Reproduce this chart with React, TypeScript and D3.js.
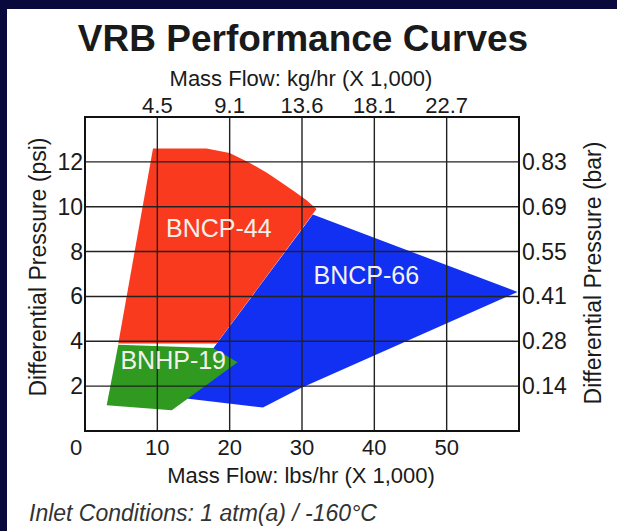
import React from 'react';
import * as d3 from 'd3';

// values
const lbsTicks = [0, 10, 20, 30, 40, 50];
const kgTickValues = [10, 20, 30, 40, 50];
const kgTickLabels = ['4.5', '9.1', '13.6', '18.1', '22.7'];
const psiTicks = [2, 4, 6, 8, 10, 12];
const barTickLabels = ['0.14', '0.28', '0.41', '0.55', '0.69', '0.83'];

// envelopes: [mass flow lbs/hr x1000, differential pressure psi]
const bncp44: [number, number][] = [
  [9.4, 12.6], [16.8, 12.6], [20, 12.4], [22.8, 11.95], [25.2, 11.5],
  [27.3, 11.05], [29.1, 10.65], [30.6, 10.3], [32.0, 9.9], [18.2, 3.9], [4.6, 3.9],
];
const bncp66: [number, number][] = [
  [31.5, 9.65], [59.8, 6.2], [29.7, 1.9], [24.6, 1.05], [14.0, 1.45], [17.3, 3.5],
];
const bnhp19: [number, number][] = [
  [4.6, 3.85], [17.7, 3.7], [21.1, 3.06], [12.0, 0.93], [3.0, 1.15],
];

const seriesNames = ['BNCP-44', 'BNCP-66', 'BNHP-19'];
const seriesShapes = [bncp44, bncp66, bnhp19];
const seriesLabelAt: [number, number][] = [[18.5, 9.05], [38.9, 6.95], [12.2, 3.16]];
const seriesColors = ['#f93a1e', '#1230f2', '#2f9a1f'];

const W = 617;
const H = 531;
const FONT = '"Liberation Sans", Arial, Helvetica, sans-serif';
const INK = '#1a1a1a';

export default function App() {
  const x = d3.scaleLinear().domain([0, 60]).range([85, 519]);
  const y = d3.scaleLinear().domain([0, 14]).range([431, 117]);

  const line = d3.line<[number, number]>()
    .x(d => x(d[0]))
    .y(d => y(d[1]))
    .curve(d3.curveLinearClosed);

  const [x0, x1] = x.range();
  const [y0, y1] = y.range();

  return (
    <svg width={W} height={H} style={{ position: 'absolute', left: 0, top: 0 }} fontFamily={FONT}>
      {/* navy frame + white panel */}
      <rect x={0} y={0} width={W} height={H} fill="#09093b" />
      <rect x={7} y={9} width={W - 7} height={H - 9} fill="#ffffff" />

      <text x={303} y={51} textAnchor="middle" fontSize={37} fontWeight="bold" fill={INK}>
        VRB Performance Curves
      </text>
      <text x={301} y={86} textAnchor="middle" fontSize={22} fill={INK}>
        Mass Flow: kg/hr (X 1,000)
      </text>

      {/* envelopes */}
      {seriesShapes.map((s, i) => (
        <path key={seriesNames[i]} d={line(s) || ''} fill={seriesColors[i]} />
      ))}

      {/* grid on top of the fills */}
      <g stroke="#222" strokeWidth={1.4}>
        {kgTickValues.map(v => (
          <line key={'v' + v} x1={x(v)} x2={x(v)} y1={y0} y2={y1} />
        ))}
        {psiTicks.map(v => (
          <line key={'h' + v} x1={x0} x2={x1} y1={y(v)} y2={y(v)} />
        ))}
      </g>
      <rect x={x0} y={y1} width={x1 - x0} height={y0 - y1} fill="none" stroke="#111" strokeWidth={2} />

      {/* series labels */}
      {seriesNames.map((n, i) => (
        <text key={n} x={x(seriesLabelAt[i][0])} y={y(seriesLabelAt[i][1])} textAnchor="middle"
          dominantBaseline="central" fontSize={25} fill="#f4f1ec">
          {n}
        </text>
      ))}

      {/* top axis: kg/hr */}
      {kgTickValues.map((v, i) => (
        <text key={'kg' + v} x={x(v)} y={113} textAnchor="middle" fontSize={22} fill={INK}>
          {kgTickLabels[i]}
        </text>
      ))}

      {/* bottom axis: lbs/hr */}
      {lbsTicks.map(v => (
        <text key={'lb' + v} x={x(v)} dx={v === 0 ? -9 : 0} y={455} textAnchor="middle" fontSize={22} fill={INK}>
          {v}
        </text>
      ))}
      <text x={301} y={483} textAnchor="middle" fontSize={22} fill={INK}>
        Mass Flow: lbs/hr (X 1,000)
      </text>

      {/* left axis: psi */}
      {psiTicks.map(v => (
        <text key={'psi' + v} x={x0 - 2} y={y(v)} textAnchor="end" dominantBaseline="central" fontSize={23} fill={INK}>
          {v}
        </text>
      ))}
      <text transform="translate(46,267) rotate(-90)" textAnchor="middle" fontSize={23} fill={INK}>
        Differential Pressure (psi)
      </text>

      {/* right axis: bar */}
      {psiTicks.map((v, i) => (
        <text key={'bar' + v} x={x1 + 3} y={y(v)} textAnchor="start" dominantBaseline="central" fontSize={23} fill={INK}>
          {barTickLabels[i]}
        </text>
      ))}
      <text transform="translate(601,273) rotate(-90)" textAnchor="middle" fontSize={23} fill={INK}>
        Differential Pressure (bar)
      </text>

      <text x={29} y={521} fontSize={23} fontStyle="italic" fill="#333">
        Inlet Conditions: 1 atm(a) / -160°C
      </text>
    </svg>
  );
}
